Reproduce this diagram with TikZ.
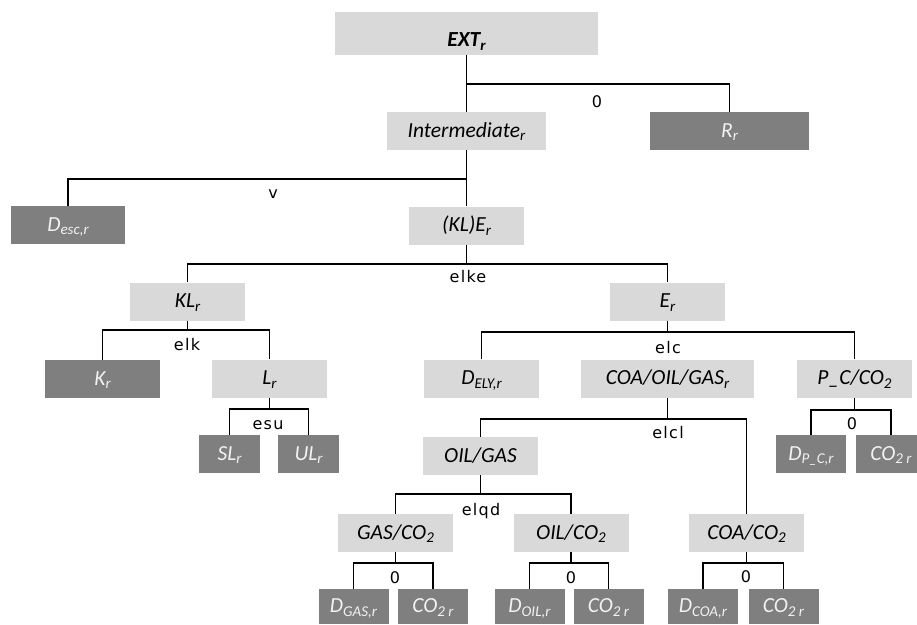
\documentclass[tikz,border=0pt]{standalone}
\usepackage{fontspec}
\setmainfont{Carlito}
\newfontfamily\lblfont[LetterSpace=8]{DejaVu Sans}
\definecolor{boxlight}{HTML}{D9D9D9}
\definecolor{boxdark}{HTML}{7F7F7F}
\definecolor{textlight}{HTML}{F2F2F2}
% lowered, smaller index text
\newcommand\sbs[1]{\raisebox{-3.5pt}{\fontsize{15}{15}\selectfont #1}}

\tikzset{
  nbox/.style={rectangle, inner sep=0pt, anchor=center,
    font=\fontsize{21.5}{21.5}\selectfont\itshape,
    text height=15pt, text depth=3pt,
    minimum width=115pt, minimum height=38pt},
  lbox/.style={nbox, fill=boxlight, text=black},
  dbox/.style={nbox, fill=boxdark, text=textlight},
  leaf/.style={dbox, minimum width=70pt, minimum height=35pt},
  lbl/.style={font=\lblfont\fontsize{16}{16}\selectfont, anchor=base, inner sep=0pt},
  stem/.style={draw=black, line width=1.8pt},
  bar/.style={draw=black, line width=1.2pt},
}

\begin{document}
\begin{tikzpicture}[x=1pt,y=-1pt]
\useasboundingbox (0,0) rectangle (917,624);
\begin{scope}
\clip (0,0) rectangle (917,624);

% ---- boxes ----
\node[lbox, minimum width=263pt, minimum height=43pt, text height=26pt, text depth=0pt,
      font=\fontsize{21.5}{21.5}\selectfont\bfseries\itshape] (ext) at (466.5,33.5) {EXT\sbs{r}};
\node[lbox, minimum width=159pt] (int) at (466.5,131) {Intermediate\sbs{r}};
\node[dbox, minimum width=159pt] (rr) at (729.5,131) {R\sbs{r}};

\node[dbox, minimum width=114pt] (desc) at (68,225) {D\sbs{esc,r}};
\node[lbox] (kle) at (466.5,225.5) {(KL)E\sbs{r}};

\node[lbox] (kl) at (187.5,301.5) {KL\sbs{r}};
\node[lbox] (e) at (667.5,301.5) {E\sbs{r}};

\node[dbox] (k) at (102.5,379) {K\sbs{r}};
\node[lbox] (l) at (269.5,378.5) {L\sbs{r}};
\node[dbox, minimum width=61pt] (sl) at (229.5,454) {SL\sbs{r}};
\node[dbox, minimum width=61pt] (ul) at (308.5,454) {UL\sbs{r}};

\node[lbox] (dely) at (481.5,378.5) {D\sbs{ELY,r}};
\node[lbox, minimum width=173pt] (cog) at (667.5,378.5) {COA/OIL/GAS\sbs{r}};
\node[lbox] (pc) at (854.5,378.5) {P\_C/CO\sbs{2}};
\node[dbox, minimum width=70pt] (dpc) at (811,454) {D\sbs{P\_C,r}};
\node[dbox, minimum width=70pt] (co2a) at (891,454) {CO\sbs{2 r}};

\node[lbox] (og) at (480.5,456) {OIL/GAS};
\node[lbox] (gasco) at (395.5,533) {GAS/CO\sbs{2}};
\node[lbox] (oilco) at (571,533) {OIL/CO\sbs{2}};
\node[lbox] (coaco) at (746.5,533) {COA/CO\sbs{2}};

\node[leaf] (dgas) at (353.5,606.5) {D\sbs{GAS,r}};
\node[leaf] (co2b) at (433,606.5) {CO\sbs{2 r}};
\node[leaf] (doil) at (529.5,606.5) {D\sbs{OIL,r}};
\node[leaf] (co2c) at (608.5,606.5) {CO\sbs{2 r}};
\node[leaf] (dcoa) at (703,606.5) {D\sbs{COA,r}};
\node[leaf] (co2d) at (783.5,606.5) {CO\sbs{2 r}};
\end{scope}

% ---- junction points of the branch bars ----
\coordinate (bext) at (466.5,84);
\coordinate (bint) at (466.5,179);
\coordinate (bkle) at (466.5,264);
\coordinate (bkl)  at (187.5,330);
\coordinate (bl)   at (269.5,409);
\coordinate (be)   at (667.5,332);
\coordinate (bpc)  at (854.5,410);
\coordinate (bcog) at (667.5,419);
\coordinate (bog)  at (480.5,494);
\coordinate (bgas) at (395.5,563);
\coordinate (boil) at (571,563);
\coordinate (bcoa) at (746.5,563);

% ---- connectors ----
\draw[stem] (ext.south) -- (bext);
\draw[bar] (bext) -- (int.north);
\draw[bar] (bext) -| (rr.north);

\draw[stem] (int.south) -- (bint);
\draw[bar] (desc.north) |- (bint) -- (kle.north);

\draw[stem] (kle.south) -- (bkle);
\draw[bar] (kl.north) |- (bkle) -| (e.north);

\draw[stem] (kl.south) -- (bkl);
\draw[bar] (k.north) |- (bkl) -| (l.north);

\draw[stem] (l.south) -- (bl);
\draw[bar] (sl.north) |- (bl) -| (ul.north);

\draw[stem] (e.south) -- (be);
\draw[bar] (dely.north) |- (be) -| (pc.north);

\draw[stem] (pc.south) -- (bpc);
\draw[bar] (dpc.north) |- (bpc) -| (co2a.north);

\draw[stem] (cog.south) -- (bcog);
\draw[bar] (og.north) |- (bcog) -| (coaco.north);

\draw[stem] (og.south) -- (bog);
\draw[bar] (gasco.north) |- (bog) -| (oilco.north);

\draw[stem] (gasco.south) -- (bgas);
\draw[bar] (dgas.north) |- (bgas) -| (co2b.north);

\draw[stem] (oilco.south) -- (boil);
\draw[bar] (doil.north) |- (boil) -| (co2c.north);

\draw[stem] (coaco.south) -- (bcoa);
\draw[bar] (dcoa.north) |- (bcoa) -| (co2d.north);

% ---- branch labels ----
\node[lbl] (lext) at (597,107) {0};
\node[lbl] (lint) at (273,198) {v};
\node[lbl] (lkle) at (468,282) {elke};
\node[lbl] (lkl)  at (187,350) {elk};
\node[lbl] (ll)   at (268,429) {esu};
\node[lbl] (le)   at (668,353) {elc};
\node[lbl] (lpc)  at (852,429) {0};
\node[lbl] (lcog) at (668,438) {elcl};
\node[lbl] (log)  at (481,515) {elqd};
\node[lbl] (lgas) at (395,583) {0};
\node[lbl] (loil) at (571,583) {0};
\node[lbl] (lcoa) at (746,582) {0};
\end{tikzpicture}
\end{document}
